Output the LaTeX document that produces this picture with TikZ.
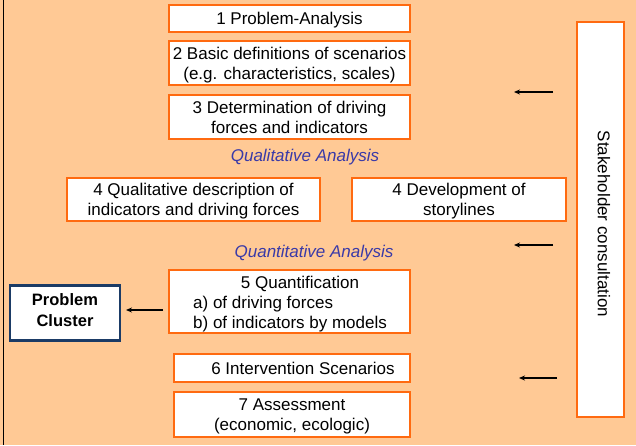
\documentclass[tikz,border=0pt]{standalone}
\usepackage{fontspec}
\setmainfont{Liberation Sans}
\usetikzlibrary{arrows.meta}
\begin{document}
\begin{tikzpicture}[x=1pt,y=-1pt,
  box/.style={draw=boxorange,line width=1.8pt,fill=white,inner sep=0pt,align=center,text depth=0pt,font=\fontsize{17}{20}\selectfont},
  plain/.style={font=\fontsize{17}{20}\selectfont},
  lbl/.style={font=\fontsize{17}{20}\selectfont\itshape,text=labblue},
  arr/.style={-{Stealth[length=6pt,width=5pt]},line width=1.2pt}]
\definecolor{bgorange}{HTML}{FFC995}
\definecolor{boxorange}{HTML}{FF6A10}
\definecolor{labblue}{HTML}{3A3AA8}
\definecolor{navy}{HTML}{1B3B66}
\fill[bgorange] (0,0) rectangle (636,445);
\useasboundingbox (0,0) rectangle (636,445);
\draw[line width=1pt] (3,0) -- (3,445);
\node[box,minimum width=241pt,minimum height=27pt] (b1) at (289.5,18.5) {1 Problem-Analysis};
\node[box,minimum width=241pt,minimum height=44pt] (b2) at (289.5,63) {2 Basic definitions of scenarios\\(e.g. characteristics, scales)};
\node[box,minimum width=241pt,minimum height=44pt] (b3) at (289.5,117) {3 Determination of driving\\forces and indicators};
\node[lbl] (ql) at (305,157) {Qualitative Analysis};
\node[box,minimum width=253pt,minimum height=43pt] (b4a) at (193.5,199.5) {4 Qualitative description of\\indicators and driving forces};
\node[box,minimum width=214pt,minimum height=43pt] (b4b) at (459,199.5) {4 Development of\\storylines};
\node[lbl] (qn) at (314,253) {Quantitative Analysis};
\node[box,minimum width=241pt,minimum height=63pt] (b5) at (289.5,301.5) {};
\node[plain,anchor=center] (t5) at (300,284) {5 Quantification};
\node[plain,align=left,anchor=west,inner sep=0pt] (t5b) at (193,314) {a) of driving forces\\b) of indicators by models};
\node[draw=navy,line width=2.6pt,fill=white,minimum width=110pt,minimum height=55pt,align=center,text depth=6pt,font=\fontsize{16.5}{21}\selectfont\bfseries] (pc) at (65,313) {Problem\\Cluster};
\coordinate (a5s) at (163,310);
\coordinate (a5e) at (126,310);
\draw[arr] (a5s) -- (a5e);
\node[box,minimum width=236pt,minimum height=28pt] (b6) at (292,368) {\hspace*{22pt}6 Intervention Scenarios};
\node[box,minimum width=236pt,minimum height=45pt] (b7) at (292,414.5) {7 Assessment\\(economic, ecologic)};
\node[box,minimum width=47pt,minimum height=395pt] (sh) at (600.5,219.5) {};
\node[rotate=-90,plain] (sht) at (604,224) {Stakeholder consultation};
\coordinate (s1) at (553,92);
\coordinate (e1) at (514,92);
\coordinate (s2) at (553,245);
\coordinate (e2) at (514,245);
\coordinate (s3) at (557,378);
\coordinate (e3) at (519,378);
\draw[arr] (s1) -- (e1);
\draw[arr] (s2) -- (e2);
\draw[arr] (s3) -- (e3);
\end{tikzpicture}
\end{document}
